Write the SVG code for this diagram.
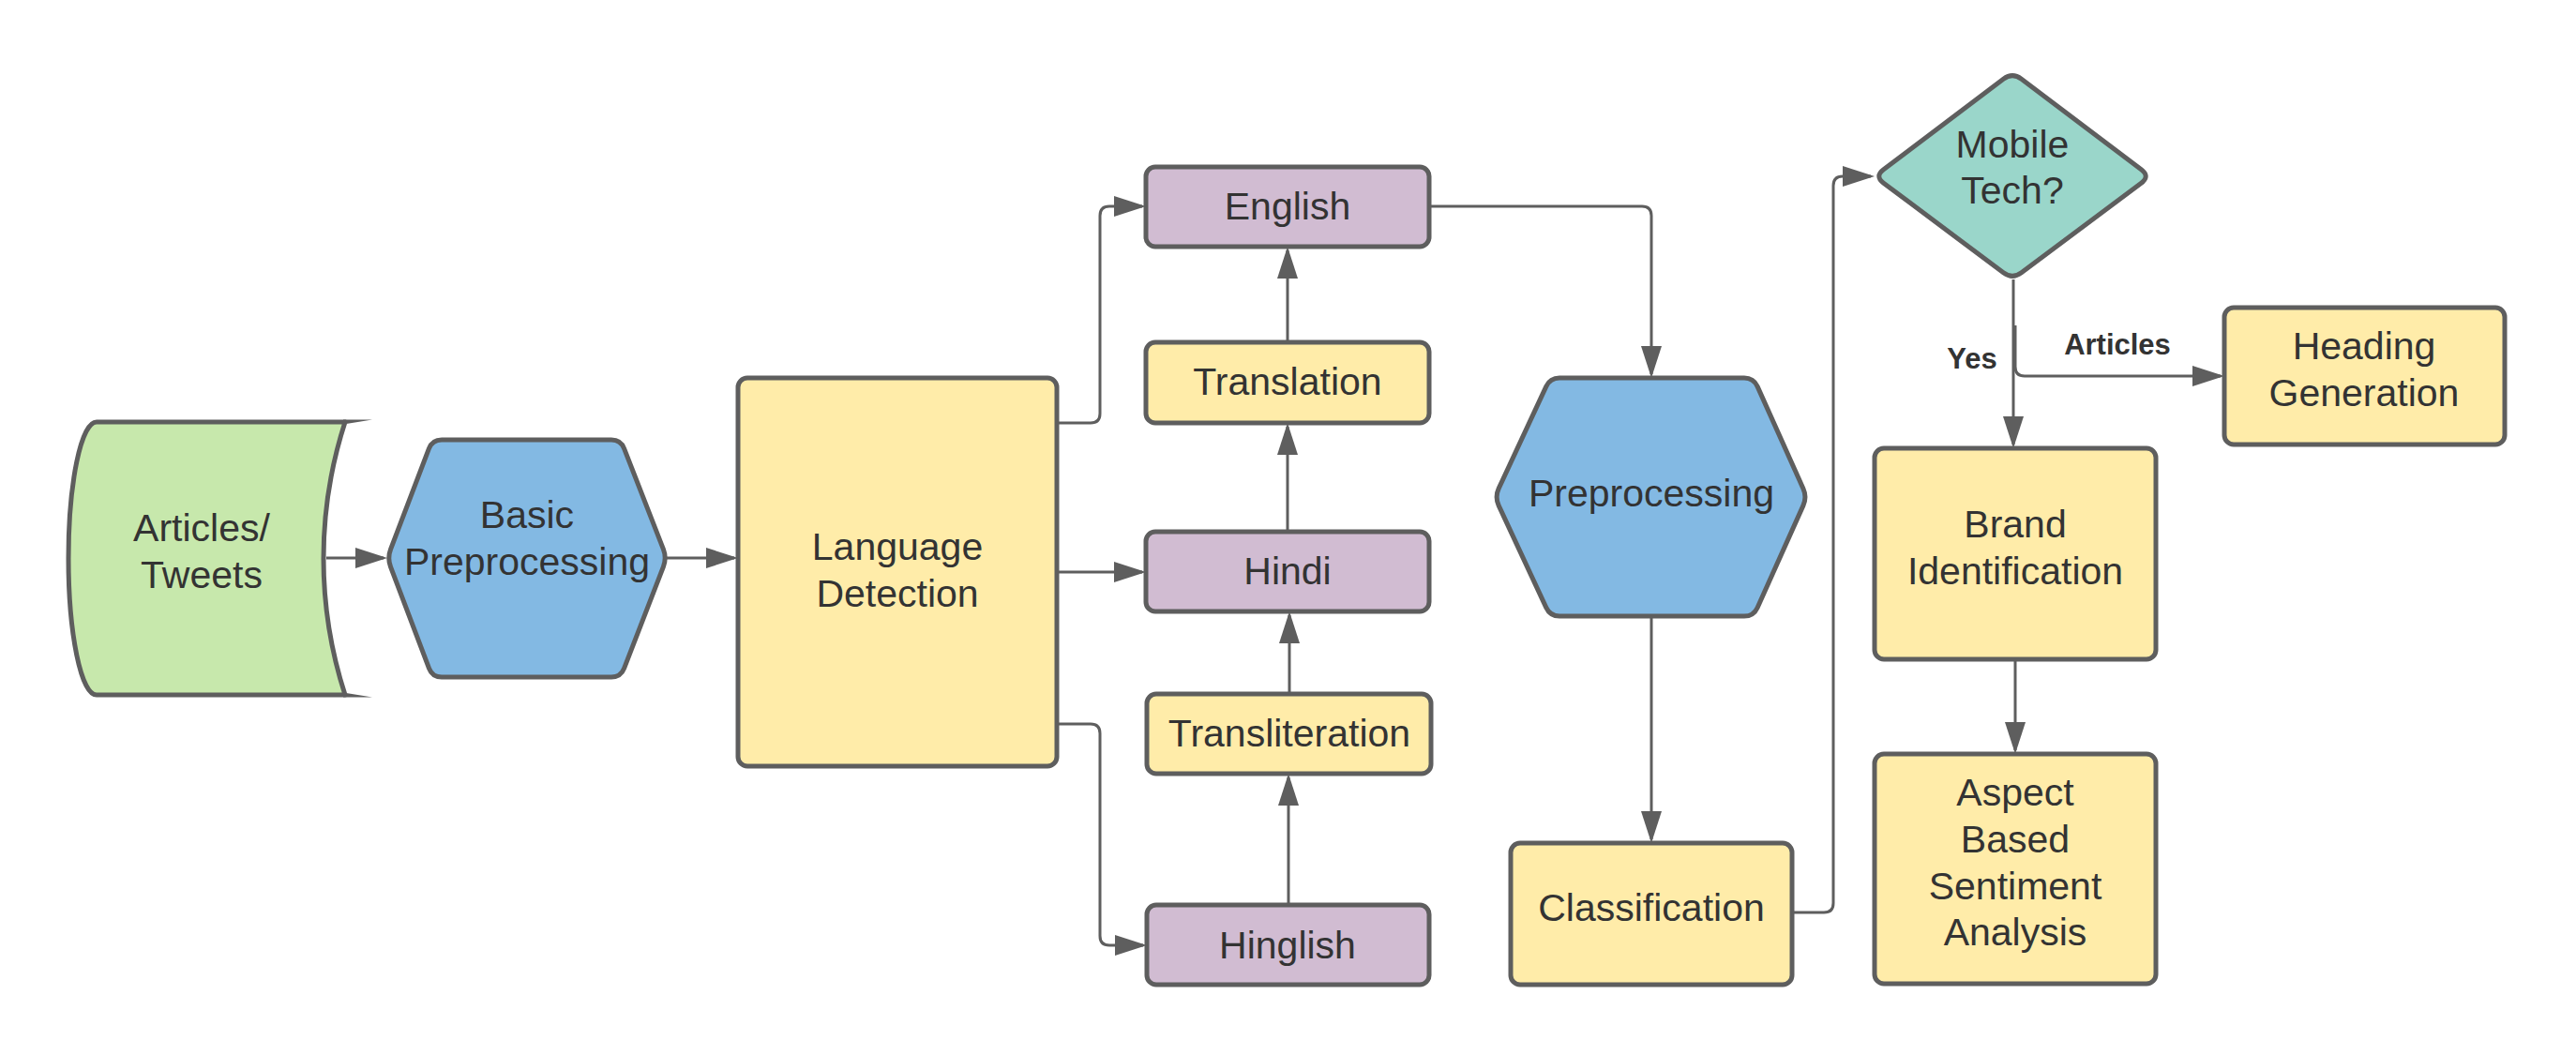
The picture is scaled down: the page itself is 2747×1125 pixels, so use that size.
<svg xmlns="http://www.w3.org/2000/svg" width="2747" height="1125" viewBox="0 0 2747 1125">
<style>
.n{stroke:#5e5e5e;stroke-width:5;stroke-linejoin:round}
.g{fill:#c7e8ac}.b{fill:#83b9e3}.y{fill:#ffeca9}.p{fill:#d1bcd2}.t{fill:#9ad6ca}
text{font-family:"Liberation Sans",Arial,sans-serif;font-size:41px;fill:#333333;text-anchor:middle}
.lb{font-weight:bold;font-size:31px}
.c{fill:none;stroke:#5e5e5e;stroke-width:3;marker-end:url(#ah)}
</style>
<defs>
<marker id="ah" markerUnits="userSpaceOnUse" markerWidth="34" markerHeight="22" refX="30" refY="11" orient="auto">
<path d="M0,0 L34,11 L0,22 Z" fill="#5e5e5e"/>
</marker>
</defs>
<rect width="2747" height="1125" fill="#ffffff"/>
<g id="connectors">
<path class="c" d="M348,595 L409,595"/>
<path class="c" d="M711,595 L783,595"/>
<path class="c" d="M1127,451 L1163,451 Q1173,451 1173,441 L1173,230 Q1173,220 1183,220 L1218,220"/>
<path class="c" d="M1127,610 L1218,610"/>
<path class="c" d="M1127,772 L1163,772 Q1173,772 1173,782 L1173,998 Q1173,1008 1183,1008 L1219,1008"/>
<path class="c" d="M1373,365 L1373,267"/>
<path class="c" d="M1373,567 L1373,455"/>
<path class="c" d="M1375,740 L1375,656"/>
<path class="c" d="M1374,965 L1374,829"/>
<path class="c" d="M1524,220 L1751,220 Q1761,220 1761,230 L1761,399"/>
<path class="c" d="M1761,657 L1761,895"/>
<path class="c" d="M1911,973 L1945,973 Q1955,973 1955,963 L1955,198 Q1955,188 1965,188 L1995,188"/>
<path class="c" d="M2147,298 L2147,474"/>
<path class="c" d="M2149,347 L2149,391 Q2149,401 2159,401 L2368,401"/>
<path class="c" d="M2149,703 L2149,800"/>
<text class="lb" x="2103" y="393">Yes</text>
<text class="lb" x="2258" y="378">Articles</text>
</g>
<g id="articles">
<path class="n g" d="M368,450 L103,450 A30,145.5 0 0 0 103,741 L368,741 A471.7,471.7 0 0 1 368,450 Z"/>
<path d="M366,447.5 L397,447.5 L366,452.5 Z M366,743.5 L397,743.5 L366,738.5 Z" fill="#5e5e5e"/>
<text x="215" y="577">Articles/</text>
<text x="215" y="627">Tweets</text>
</g>
<g id="basic">
<path class="n b" d="M416.6,585.6 L457.4,478.4 Q461,469 471,469 L652,469 Q662,469 665.6,478.3 L707.4,585.7 Q711,595 707.4,604.3 L665.6,712.7 Q662,722 652,722 L471,722 Q461,722 457.5,712.6 L416.5,604.4 Q413,595 416.6,585.6 Z"/>
<text x="562" y="563">Basic</text>
<text x="562" y="613">Preprocessing</text>
</g>
<g id="langdet">
<rect class="n y" x="787" y="403" width="340" height="414" rx="10"/>
<text x="957" y="597">Language</text>
<text x="957" y="647">Detection</text>
</g>
<g id="english">
<rect class="n p" x="1222" y="178" width="302" height="85" rx="10"/>
<text x="1373" y="234">English</text>
</g>
<g id="translation">
<rect class="n y" x="1222" y="365" width="302" height="86" rx="10"/>
<text x="1373" y="421">Translation</text>
</g>
<g id="hindi">
<rect class="n p" x="1222" y="567" width="302" height="85" rx="10"/>
<text x="1373" y="623">Hindi</text>
</g>
<g id="transliteration">
<rect class="n y" x="1223" y="740" width="303" height="85" rx="10"/>
<text x="1375" y="796">Transliteration</text>
</g>
<g id="hinglish">
<rect class="n p" x="1223" y="965" width="301" height="85" rx="10"/>
<text x="1373" y="1022">Hinglish</text>
</g>
<g id="preprocessing">
<path class="n b" d="M1598.2,520.9 L1648.8,412.1 Q1653,403 1663,403 L1860,403 Q1870,403 1874.1,412.1 L1922.9,520.9 Q1927,530 1922.9,539.1 L1874.1,647.9 Q1870,657 1860,657 L1663,657 Q1653,657 1648.8,647.9 L1598.2,539.1 Q1594,530 1598.2,520.9 Z"/>
<text x="1761" y="540">Preprocessing</text>
</g>
<g id="classification">
<rect class="n y" x="1611" y="899" width="300" height="151" rx="10"/>
<text x="1761" y="982">Classification</text>
</g>
<g id="mobiletech">
<path class="n t" d="M2136.4,84.2 Q2146,77 2155.6,84.2 L2283.4,180.8 Q2293,188 2283.4,195.2 L2155.6,290.8 Q2146,298 2136.4,290.8 L2008.6,195.2 Q1999,188 2008.6,180.8 Z"/>
<text x="2146" y="168">Mobile</text>
<text x="2146" y="217">Tech?</text>
</g>
<g id="heading">
<rect class="n y" x="2372" y="328" width="299" height="146" rx="10"/>
<text x="2521" y="383">Heading</text>
<text x="2521" y="433">Generation</text>
</g>
<g id="brand">
<rect class="n y" x="1999" y="478" width="300" height="225" rx="10"/>
<text x="2149" y="573">Brand</text>
<text x="2149" y="623">Identification</text>
</g>
<g id="aspect">
<rect class="n y" x="1999" y="804" width="300" height="245" rx="10"/>
<text x="2149" y="859">Aspect</text>
<text x="2149" y="909">Based</text>
<text x="2149" y="959">Sentiment</text>
<text x="2149" y="1008">Analysis</text>
</g>
</svg>
